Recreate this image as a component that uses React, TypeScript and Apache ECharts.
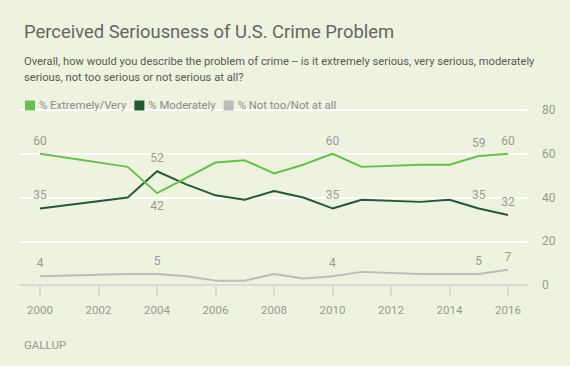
import React, { useEffect, useRef } from "react";
import * as echarts from "echarts";

const years = [2000, 2003, 2004, 2005, 2006, 2007, 2008, 2009, 2010, 2011, 2013, 2014, 2015, 2016];
const extremelyVery = [60, 54, 42, 49, 56, 57, 51, 55, 60, 54, 55, 55, 59, 60];
const moderately = [35, 40, 52, 46, 41, 39, 43, 40, 35, 39, 38, 39, 35, 32];
const notTooNotAtAll = [4, 5, 5, 4, 2, 2, 5, 3, 4, 6, 5, 5, 5, 7];
const xTickYears = [2000, 2002, 2004, 2006, 2008, 2010, 2012, 2014, 2016];
const labeledYears = [2000, 2004, 2010, 2015, 2016];
const belowLabelYears: Record<string, number[]> = { ev: [2004], mod: [], nt: [] };

const seriesNames = ["% Extremely/Very", "% Moderately", "% Not too/Not at all"];
const colors = ["#67c04e", "#265a33", "#bcbcbc"];

const FONT = "Roboto, 'Noto Sans', sans-serif";

function buildData(values: number[], key: string) {
  return years.map((y, i) => {
    const item: any = { value: [y, values[i]] };
    if (labeledYears.includes(y)) {
      const below = belowLabelYears[key].includes(y);
      item.label = {
        show: true,
        position: below ? "bottom" : "top",
        distance: 7,
        color: "#9a9a9a",
        fontSize: 12,
        fontFamily: FONT,
      };
    }
    return item;
  });
}

export default function App() {
  const ref = useRef<HTMLDivElement>(null);
  useEffect(() => {
    document.body.style.margin = "0";
    if (!ref.current) return;
    const chart = echarts.init(ref.current, undefined, { renderer: "svg" });
    const keys = ["ev", "mod", "nt"];
    const vals = [extremelyVery, moderately, notTooNotAtAll];
    chart.setOption({
      animation: false,
      backgroundColor: "#edf3de",
      title: [
        {
          text: "Perceived Seriousness of U.S. Crime Problem",
          left: 19,
          top: 17,
          textStyle: { fontSize: 18.4, fontWeight: "normal", color: "#666666", fontFamily: FONT },
        },
        {
          text:
            "Overall, how would you describe the problem of crime -- is it extremely serious, very serious, moderately\nserious, not too serious or not serious at all?",
          left: 19,
          top: 48,
          textStyle: { fontSize: 11.2, fontWeight: "normal", color: "#595959", fontFamily: FONT, lineHeight: 16.5 },
        },
        {
          text: "GALLUP",
          left: 19,
          top: 334,
          textStyle: { fontSize: 11.5, fontWeight: "normal", color: "#999999", fontFamily: FONT },
        },
      ],
      legend: {
        left: 20,
        top: 95,
        icon: "rect",
        itemWidth: 10,
        itemHeight: 10,
        itemGap: 8,
        textStyle: { fontSize: 11.3, color: "#8c8c8c", fontFamily: FONT, padding: [0, 0, 0, -1] },
        data: seriesNames,
      },
      grid: { left: 20, right: 43, top: 110, bottom: 81 },
      xAxis: {
        type: "value",
        min: 1999.316,
        max: 2016.65,
        splitLine: { show: false },
        axisLine: { show: true, lineStyle: { color: "#dadada", width: 2 } },
        axisTick: {
          show: true,
          length: 11,
          lineStyle: { color: "#dadada", width: 2 },
          customValues: xTickYears,
        },
        axisLabel: {
          customValues: xTickYears,
          formatter: (v: number) => String(Math.round(v)),
          color: "#999999",
          fontSize: 11.5,
          fontFamily: FONT,
          margin: 19,
        },
      },
      yAxis: {
        type: "value",
        position: "right",
        min: 0,
        max: 80,
        interval: 20,
        axisLine: { show: false },
        axisTick: { show: false },
        splitLine: { show: true, lineStyle: { color: "#ffffff", width: 2 } },
        axisLabel: { color: "#999999", fontSize: 12, fontFamily: FONT, margin: 15 },
      },
      series: vals.map((v, i) => ({
        name: seriesNames[i],
        type: "line",
        data: buildData(v, keys[i]),
        symbol: "circle",
        symbolSize: 0,
        showSymbol: true,
        lineStyle: { color: colors[i], width: 2 },
        itemStyle: { color: colors[i] },
        z: 3 - i + 2,
      })),
    });
    return () => chart.dispose();
  }, []);
  return <div ref={ref} style={{ width: 570, height: 366 }} />;
}
